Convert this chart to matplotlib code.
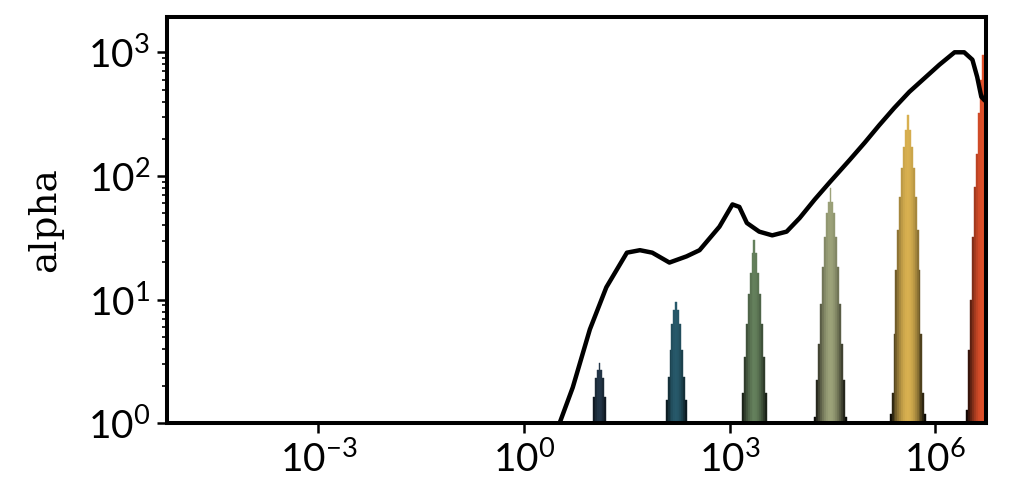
import numpy as np
import matplotlib.pyplot as plt
from matplotlib.ticker import LogLocator, NullLocator
from matplotlib.colors import to_rgb

plt.rcParams['font.family'] = ['Lato', 'DejaVu Sans']

# black curve (log10 values)
line_logx = [0.45, 0.71, 0.96, 1.20, 1.50, 1.69, 1.87, 2.12, 2.37, 2.56, 2.85, 3.04,
             3.14, 3.25, 3.43, 3.62, 3.83, 4.02, 4.24, 4.46, 4.75, 4.97, 5.18, 5.40,
             5.62, 5.84, 6.06, 6.28, 6.42, 6.54, 6.61, 6.67, 6.72, 6.82]
line_logy = [-0.10, 0.29, 0.76, 1.10, 1.38, 1.40, 1.38, 1.30, 1.35, 1.40, 1.59, 1.77,
             1.75, 1.62, 1.55, 1.52, 1.55, 1.66, 1.81, 1.95, 2.13, 2.27, 2.41, 2.55,
             2.68, 2.79, 2.90, 3.00, 3.00, 2.94, 2.80, 2.64, 2.61, 2.86]

# peaks: centre (log10 x), heights from centre bin outward, colour
peak_centers = [1.10, 2.22, 3.36, 4.47, 5.60, 6.69]
peak_profiles = [
    [3.05, 2.7, 2.31, 1.64, 1.03],
    [9.6, 8.2, 6.4, 3.9, 2.38, 1.54, 1.0],
    [30.3, 23.7, 16.3, 11.2, 6.4, 3.45, 1.75, 1.03],
    [80, 62, 50, 32, 18.5, 9.3, 4.4, 2.24, 1.13],
    [311, 235, 172, 115, 68, 36.5, 17.3, 5.3, 1.75, 1.2],
    [950, 600, 320, 150, 82, 32, 9.9, 3.9, 1.28],
]
peak_colors = ['#24384a', '#27596a', '#64805c', '#9da37a', '#d8b050', '#e0502a']

bin_w = 0.028  # bin width in decades

fig = plt.figure(figsize=(10.24, 4.9), dpi=100)
ax = fig.add_subplot(111)
fig.subplots_adjust(left=0.163, right=0.963, bottom=0.136, top=0.966)

for c, prof, col in zip(peak_centers, peak_profiles, peak_colors):
    n = len(prof)
    idx = np.arange(-(n - 1), n)
    lo = 10 ** (c + (idx - 0.5) * bin_w)
    hi = 10 ** (c + (idx + 0.5) * bin_w)
    h = np.array([prof[abs(i)] for i in idx])
    f = np.abs(idx) / (n - 0.5)
    b = np.clip(np.cos(f * np.pi / 2) ** 1.1, 0.03, 1)
    cols = [tuple(np.array(to_rgb(col)) * v) for v in b]
    ax.bar(lo, h - 0.1, width=hi - lo, bottom=0.1, align='edge',
           color=cols, edgecolor=cols, linewidth=0.3, zorder=2)

ax.plot(10 ** np.array(line_logx), 10 ** np.array(line_logy),
        color='black', lw=3.2, zorder=3, solid_joinstyle='round')

ax.set_xscale('log')
ax.set_yscale('log')
ax.set_xlim(10 ** -5.21, 10 ** 6.74)
ax.set_ylim(1, 10 ** 3.288)

ax.set_xticks([1e-3, 1, 1e3, 1e6])
ax.xaxis.set_minor_locator(NullLocator())
ax.yaxis.set_major_locator(LogLocator(base=10))
ax.yaxis.set_minor_locator(LogLocator(base=10, subs=np.arange(2, 10)))

ax.tick_params(which='major', labelsize=28, length=7, width=1.8, pad=5)
ax.tick_params(which='minor', length=3.5, width=1.2)
for s in ax.spines.values():
    s.set_linewidth(2.9)
    s.set_zorder(5)

ax.set_ylabel('alpha', family='DejaVu Serif', fontsize=27, labelpad=18)

fig.savefig('out.png', dpi=100)
